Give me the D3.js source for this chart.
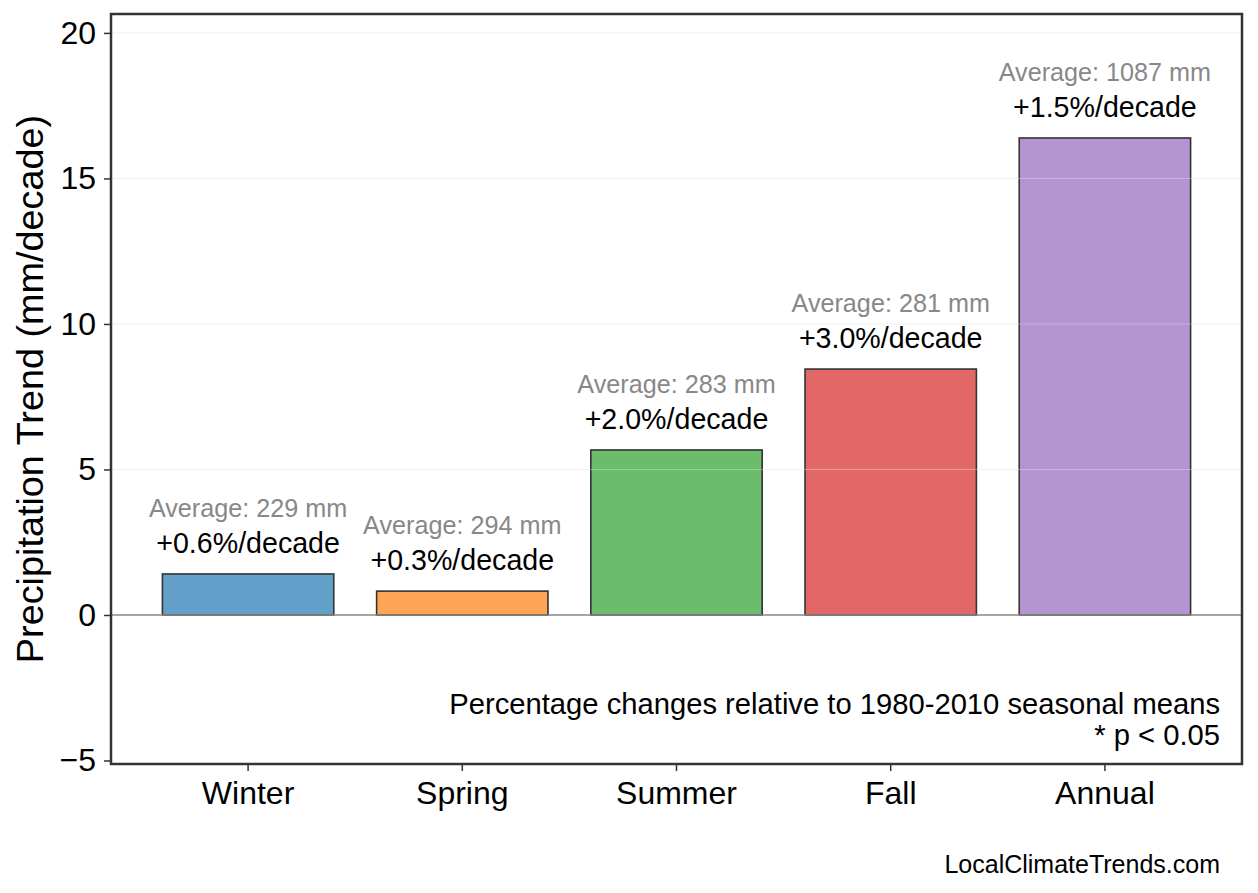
<!DOCTYPE html>
<html lang="en">
<head>
    <meta charset="UTF-8">
    <title>Seasonal Precipitation Trends</title>
    <script src="https://d3js.org/d3.v7.min.js"></script>
    <style>
        body { margin: 0; background: #fff; }
        svg { display: block; }
        text { font-family: "Liberation Sans", Arial, Helvetica, sans-serif; }
    </style>
</head>
<body>
    <script>
        // data
        const seasons = ["Winter", "Spring", "Summer", "Fall", "Annual"];
        const trends = [1.41, 0.82, 5.67, 8.45, 16.39];       // mm/decade
        const pctChange = ["+0.6", "+0.3", "+2.0", "+3.0", "+1.5"]; // %/decade
        const averages = [229, 294, 283, 281, 1087];          // mm
        const colors = ["#62a0ca", "#ffa556", "#6bbc6b", "#e26868", "#b494d1"];
        const yTicks = [-5, 0, 5, 10, 15, 20];

        const width = 1258, height = 893;
        const margin = {left: 111, right: 16, top: 14, bottom: 129};

        const svg = d3.select("body").append("svg")
            .attr("width", width).attr("height", height);

        const x = d3.scaleBand()
            .domain(seasons)
            .range([margin.left, width - margin.right])
            .paddingInner(0.2)
            .paddingOuter(0.24);

        const y = d3.scaleLinear()
            .domain([-5.12, 20.65])
            .range([height - margin.bottom, margin.top]);

        // bars
        svg.append("g").selectAll("rect")
            .data(seasons)
            .enter()
            .append("rect")
            .attr("x", d => x(d))
            .attr("width", x.bandwidth())
            .attr("y", (d, i) => y(trends[i]))
            .attr("height", (d, i) => y(0) - y(trends[i]))
            .attr("fill", (d, i) => colors[i])
            .attr("stroke", "#333")
            .attr("stroke-width", 1.6);

        // gridlines (drawn on top, faint)
        svg.append("g").selectAll("line")
            .data(yTicks.filter(t => t > 0))
            .enter()
            .append("line")
            .attr("x1", margin.left).attr("x2", width - margin.right)
            .attr("y1", d => y(d)).attr("y2", d => y(d))
            .attr("stroke", "#dddddd")
            .attr("stroke-opacity", 0.45)
            .attr("stroke-width", 1);

        // zero line
        svg.append("line")
            .attr("x1", margin.left).attr("x2", width - margin.right)
            .attr("y1", y(0)).attr("y2", y(0))
            .attr("stroke", "#888")
            .attr("stroke-width", 1.5);

        // labels above bars
        const lab = svg.append("g").selectAll("g")
            .data(seasons)
            .enter()
            .append("g");

        lab.append("text")
            .attr("x", d => x(d) + x.bandwidth() / 2)
            .attr("y", (d, i) => y(trends[i]) - 21)
            .attr("text-anchor", "middle")
            .attr("font-size", 28.6)
            .attr("fill", "#000")
            .text((d, i) => pctChange[i] + "%/decade");

        lab.append("text")
            .attr("x", d => x(d) + x.bandwidth() / 2)
            .attr("y", (d, i) => y(trends[i]) - 57)
            .attr("text-anchor", "middle")
            .attr("font-size", 25.2)
            .attr("fill", "#888")
            .text((d, i) => "Average: " + averages[i] + " mm");

        // axes
        const yAxis = svg.append("g")
            .attr("transform", `translate(${margin.left},0)`)
            .call(d3.axisLeft(y).tickValues(yTicks).tickSize(7).tickPadding(8)
                .tickFormat(d => d < 0 ? "\u2212" + Math.abs(d) : d));
        yAxis.select(".domain").remove();
        yAxis.selectAll("line").attr("stroke", "#333").attr("stroke-width", 1.5);
        yAxis.selectAll("text").attr("font-size", 32).attr("fill", "#000")
            .attr("font-family", "Liberation Sans, Arial, sans-serif");

        const xAxis = svg.append("g")
            .attr("transform", `translate(0,${height - margin.bottom})`)
            .call(d3.axisBottom(x).tickSize(7).tickPadding(10));
        xAxis.select(".domain").remove();
        xAxis.selectAll("line").attr("stroke", "#333").attr("stroke-width", 1.5);
        xAxis.selectAll("text").attr("font-size", 32).attr("fill", "#000")
            .attr("font-family", "Liberation Sans, Arial, sans-serif");

        // frame
        svg.append("rect")
            .attr("x", margin.left).attr("y", margin.top)
            .attr("width", width - margin.left - margin.right)
            .attr("height", height - margin.top - margin.bottom)
            .attr("fill", "none")
            .attr("stroke", "#333")
            .attr("stroke-width", 2.5);

        // y label
        svg.append("text")
            .attr("transform", `translate(43,${(margin.top + height - margin.bottom) / 2}) rotate(-90)`)
            .attr("text-anchor", "middle")
            .attr("font-size", 37.8)
            .attr("fill", "#000")
            .text("Precipitation Trend (mm/decade)");

        // notes
        svg.append("text")
            .attr("x", 1220).attr("y", 714)
            .attr("text-anchor", "end")
            .attr("font-size", 29.2)
            .text("Percentage changes relative to 1980-2010 seasonal means");
        svg.append("text")
            .attr("x", 1220).attr("y", 745)
            .attr("text-anchor", "end")
            .attr("font-size", 29.2)
            .text("* p < 0.05");
        svg.append("text")
            .attr("x", 1220).attr("y", 873)
            .attr("text-anchor", "end")
            .attr("font-size", 25)
            .text("LocalClimateTrends.com");
    </script>
</body>
</html>
